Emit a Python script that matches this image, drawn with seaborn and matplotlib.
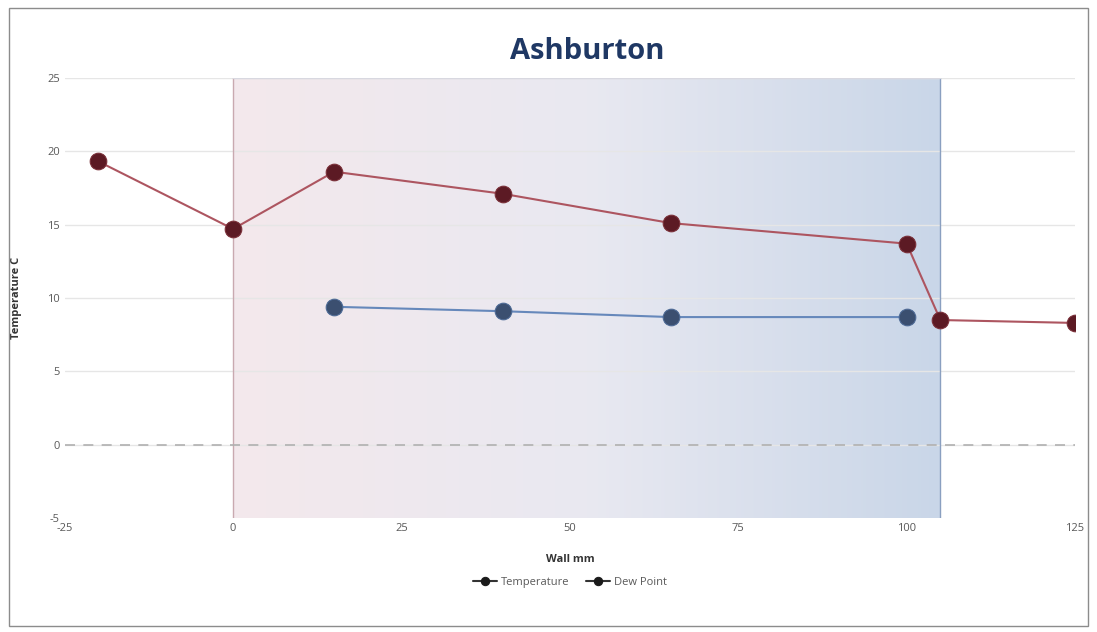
import numpy as np
import pandas as pd
import matplotlib.pyplot as plt
import seaborn as sns
from matplotlib.colors import LinearSegmentedColormap

########################################################
# Data
########################################################

temp_x = [-20, 0, 15, 40, 65, 100, 105, 125]
temp_y = [19.3, 14.7, 18.6, 17.1, 15.1, 13.7, 8.5, 8.3]

dew_x = [15, 40, 65, 100]
dew_y = [9.4, 9.1, 8.7, 8.7]

wall_start, wall_end = 0, 105
x_ticks = [-25, 0, 25, 50, 75, 100, 125]
y_ticks = [-5, 0, 5, 10, 15, 20, 25]

########################################################
# Plot
########################################################

sns.set_style("white")
plt.rcParams['font.family'] = ['Open Sans', 'DejaVu Sans']
plt.rcParams['axes.unicode_minus'] = False

fig = plt.figure(figsize=(10.97, 6.32), dpi=100)
ax = fig.add_axes([0.059, 0.18, 0.921, 0.697])

# gradient wall
grad = LinearSegmentedColormap.from_list("wall", ["#f4e8ec", "#e9e9f1", "#c9d6e8"])
ax.imshow(np.linspace(0, 1, 256).reshape(1, -1), cmap=grad, aspect='auto',
          extent=[wall_start, wall_end, y_ticks[0], y_ticks[-1]], zorder=0)
ax.axvline(wall_start, color="#c9a9b0", lw=1, zorder=1)
ax.axvline(wall_end, color="#8a9fc0", lw=1, zorder=1)
ax.plot([wall_start, wall_end], [y_ticks[-1]] * 2, color="#d8d8e0", lw=1, zorder=1)

for y in y_ticks[1:]:
    ax.axhline(y, color="#e6e6e6", lw=1, zorder=0.5)
ax.axhline(0, color="#b0b0b0", lw=1.2, ls=(0, (6, 5)), zorder=1.5)

df_t = pd.DataFrame({"x": temp_x, "y": temp_y})
df_d = pd.DataFrame({"x": dew_x, "y": dew_y})

sns.lineplot(data=df_t, x="x", y="y", ax=ax, color="#ad5560", lw=1.5, marker="o",
             markersize=12, markerfacecolor="#5c1a24", markeredgecolor="#7a2f38",
             label="Temperature", sort=False, zorder=3)
sns.lineplot(data=df_d, x="x", y="y", ax=ax, color="#6688bb", lw=1.5, marker="o",
             markersize=12, markerfacecolor="#3b4f70", markeredgecolor="#4d6a96",
             label="Dew Point", sort=False, zorder=3)

ax.set_xlim(x_ticks[0], x_ticks[-1])
ax.set_ylim(y_ticks[0], y_ticks[-1])
ax.set_xticks(x_ticks)
ax.set_yticks(y_ticks)
ax.tick_params(labelsize=8, colors="#595959", length=0)
for s in ax.spines.values():
    s.set_visible(False)

ax.set_xlabel("Wall mm", fontsize=8, fontweight="bold", color="#333333", labelpad=14)
ax.set_ylabel("Temperature C", fontsize=8, fontweight="bold", color="#333333", labelpad=18)
fig.text(0.535, 0.918, "Ashburton", ha="center", va="center", fontsize=21,
         fontweight="bold", color="#1f3864")

leg = ax.legend(loc="upper center", bbox_to_anchor=(0.5, -0.11), ncol=2, frameon=False,
                fontsize=8, handlelength=2.2, columnspacing=1.5, handletextpad=0.3,
                markerscale=0.5, labelcolor="#595959")
for h in leg.legend_handles:
    h.set_color("#333333")
    h.set_markerfacecolor("#1a1a1a")
    h.set_markeredgecolor("#1a1a1a")

# outer border
fig.add_artist(plt.Rectangle((0.008, 0.01), 0.984, 0.978, transform=fig.transFigure,
                             fill=False, edgecolor="#8c8c8c", lw=1))

fig.savefig("out.png", dpi=100)
